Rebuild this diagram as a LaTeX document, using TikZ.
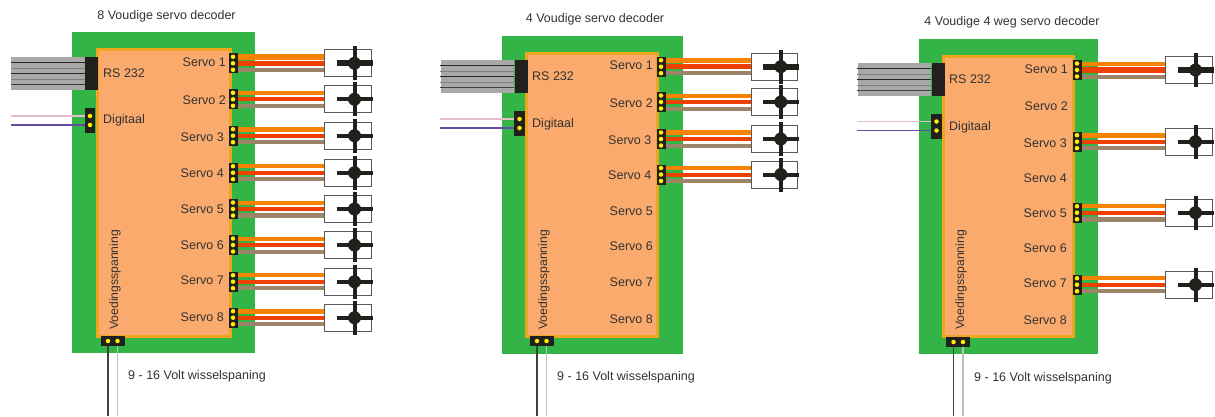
\documentclass[tikz,border=0pt]{standalone}
\usepackage{fontspec}
\setmainfont{Liberation Sans}
\usetikzlibrary{calc,positioning}
\definecolor{pcbgreen}{RGB}{50,180,70}
\definecolor{boardfill}{RGB}{249,170,108}
\definecolor{boardedge}{RGB}{240,165,30}
\definecolor{plugdark}{RGB}{34,32,28}
\definecolor{wireorange}{RGB}{245,130,0}
\definecolor{wirered}{RGB}{238,64,0}
\definecolor{wiretan}{RGB}{156,132,104}
\definecolor{wirepink}{RGB}{226,190,205}
\definecolor{wirepurple}{RGB}{100,75,160}
\definecolor{labeltext}{RGB}{51,51,51}
\tikzset{
  labeltxt/.style={text=labeltext,inner sep=0pt,font=\fontsize{12.5}{14}\selectfont},
  sidetxt/.style={labeltxt,rotate=90,anchor=west,font=\fontsize{12.2}{14}\selectfont},
  plug/.style={fill=plugdark,inner sep=0pt,minimum width=#1},
  pin/.style={circle,fill=yellow,inner sep=0pt,minimum size=4.5pt},
  servobox/.style={draw=black!65,fill=white,line width=1pt,inner sep=0pt,minimum width=46.5pt,minimum height=27pt},
  hub/.style={circle,fill=plugdark,inner sep=0pt,minimum size=13pt},
  cable/.style={fill=black!34,inner sep=0pt,minimum width=73.5pt,minimum height=33pt}
}
% one servo output: header, three wires, servo with its cross
\newcommand{\servoport}[9]{
  \node[plug=9pt,minimum height=20pt] (#1h#2) at (#3,#4) {};
  \node[pin] (#1a#2) at (#3,#4-6.5) {};
  \node[pin] (#1b#2) at (#3,#4) {};
  \node[pin] (#1c#2) at (#3,#4+6.5) {};
  \node[servobox] (#1s#2) at (#5,#4) {};
  \draw[wireorange,line width=#6pt] (#1h#2.east |- #1a#2) -- (#1s#2.west |- #1a#2);
  \draw[wirered,line width=#7pt] (#1h#2.east |- #1b#2) -- (#1s#2.west |- #1b#2);
  \draw[wiretan,line width=#8pt] (#1h#2.east |- #1c#2) -- (#1s#2.west |- #1c#2);
  \node[hub] (#1m#2) at ($(#1s#2)+(6.5,0)$) {};
  \draw[plugdark,line width=#9pt] ($(#1m#2)+(-18,0)$) -- ($(#1m#2)+(18,0)$);
  \draw[plugdark,line width=4pt] ($(#1m#2)+(0,-17)$) -- ($(#1m#2)+(0,17)$);
}
% RS 232 plug with flat cable, Digitaal plug with its two wires
\newcommand{\inputs}[4]{
  \node[plug=13pt,minimum height=33pt] (#1rs) at (#2,#3) {};
  \node[cable,left=0pt of #1rs] (#1cb) {};
  \foreach \dy/\col in {-11/black!85,-5.5/black!50,0/black!85,5.5/black!50,11/black!75}
    \draw[\col,line width=1pt] ($(#1cb.west)+(0,\dy)$) -- ($(#1cb.east)+(0,\dy)$);
  \node[plug=10.5pt,minimum height=25pt] (#1dg) at (#2-1.5,#4) {};
  \node[pin] (#1d1) at (#2-1.5,#4-4.5) {};
  \node[pin] (#1d2) at (#2-1.5,#4+4.5) {};
  \draw[wirepink,line width=1.5pt] (#1cb.west |- #1d1) -- (#1dg.west |- #1d1);
  \draw[wirepurple,line width=1.5pt] (#1cb.west |- #1d2) -- (#1dg.west |- #1d2);
}
% power plug at the bottom edge of the board
\newcommand{\powerplug}[3]{
  \node[plug=24pt,minimum height=10pt] (#1pw) at (#2,#3) {};
  \node[pin] (#1p1) at (#2-4.5,#3) {};
  \node[pin] (#1p2) at (#2+5,#3) {};
  \coordinate (#1q1) at (#2-4.5,416);
  \coordinate (#1q2) at (#2+5,416);
  \draw[black!75,line width=1.2pt] (#1pw.south -| #1p1) -- (#1q1);
  \draw[black!25,line width=1.2pt] (#1pw.south -| #1p2) -- (#1q2);
}
\begin{document}
\begin{tikzpicture}[x=1pt,y=-1pt]
  \useasboundingbox (0,0) rectangle (1215,416);

  % 8 servos
  \fill[pcbgreen] (72,32) rectangle (255,353);
  \draw[boardedge,fill=boardfill,line width=3pt] (97.5,49.5) rectangle (230.5,336.5);
  \node[labeltxt] (t1) at (166.5,16) {8 Voudige servo decoder};
  \inputs{p1}{91.5}{73.5}{120.5}
  \foreach \n/\y/\wa/\wb/\wc/\ar in {1/63.3/5.4/5.4/4/6,2/99.3/4/4/4/4,3/135.7/5.4/4/4/4,4/172.7/4/4/4/4,5/209/4/4/5.4/4,6/245/4/4/4/4,7/281.7/4/4/4/4,8/317.7/5.4/4/4/4} {
    \servoport{p1}{\n}{233}{\y}{348}{\wa}{\wb}{\wc}{\ar}
  }
  \foreach \n/\y/\x in {1/62/226,2/100/226,3/137/224,4/173/224,5/209/224,6/245/224,7/280/224,8/317/224} {
    \node[labeltxt,anchor=east] (p1l\n) at (\x,\y) {Servo \n};
  }
  \node[labeltxt,anchor=west] (p1r) at (103,73) {RS 232};
  \node[labeltxt,anchor=west] (p1d) at (103,120) {Digitaal};
  \node[sidetxt] (p1v) at (115,330) {Voedingsspanning};
  \powerplug{p1}{112.5}{341}
  \node[labeltxt,anchor=west] (p1w) at (128,376) {9 - 16 Volt wisselspaning};

  % 4 servos
  \fill[pcbgreen] (502,36) rectangle (683,354);
  \draw[boardedge,fill=boardfill,line width=3pt] (526.5,53.5) rectangle (657.5,336.5);
  \node[labeltxt] (t2) at (595,19) {4 Voudige servo decoder};
  \inputs{p2}{521}{76.5}{123.5}
  \foreach \n/\y/\wa/\wb/\wc/\ar in {1/66.7/5.4/5.4/4/6,2/102/4/4/4/4,3/139/5.4/4/4/4,4/174.5/4/4/4/4} {
    \servoport{p2}{\n}{661}{\y}{774.3}{\wa}{\wb}{\wc}{\ar}
  }
  \foreach \n/\y/\x in {1/65/653,2/103/653,3/140/651.5,4/175/651.5,5/211/653,6/246/653,7/282/653,8/319/653} {
    \node[labeltxt,anchor=east] (p2l\n) at (\x,\y) {Servo \n};
  }
  \node[labeltxt,anchor=west] (p2r) at (532,76) {RS 232};
  \node[labeltxt,anchor=west] (p2d) at (532,124) {Digitaal};
  \node[sidetxt] (p2v) at (544,330) {Voedingsspanning};
  \powerplug{p2}{541.5}{341}
  \node[labeltxt,anchor=west] (p2w) at (557,377) {9 - 16 Volt wisselspaning};

  % 4 servos, 4 ways
  \fill[pcbgreen] (919,39) rectangle (1098,354);
  \draw[boardedge,fill=boardfill,line width=3pt] (943.5,56.5) rectangle (1073.5,336.5);
  \node[labeltxt] (t3) at (1012,22) {4 Voudige 4 weg servo decoder};
  \inputs{p3}{938}{79.5}{126}
  \foreach \n/\y/\wa/\wb/\wc/\ar in {1/70/4/5.4/4/6,3/141.7/5.4/4/4/4,5/212.7/4/4/5.4/4,7/284.7/4/4/4/4} {
    \servoport{p3}{\n}{1077}{\y}{1189}{\wa}{\wb}{\wc}{\ar}
  }
  \foreach \n/\y/\x in {1/69/1068,2/106/1068,3/143/1067,4/178/1067,5/213/1067,6/248/1067,7/283/1067,8/320/1067} {
    \node[labeltxt,anchor=east] (p3l\n) at (\x,\y) {Servo \n};
  }
  \node[labeltxt,anchor=west] (p3r) at (949,79) {RS 232};
  \node[labeltxt,anchor=west] (p3d) at (949,127) {Digitaal};
  \node[sidetxt] (p3v) at (961,330) {Voedingsspanning};
  \powerplug{p3}{958}{342}
  \node[labeltxt,anchor=west] (p3w) at (974,378) {9 - 16 Volt wisselspaning};
\end{tikzpicture}
\end{document}
